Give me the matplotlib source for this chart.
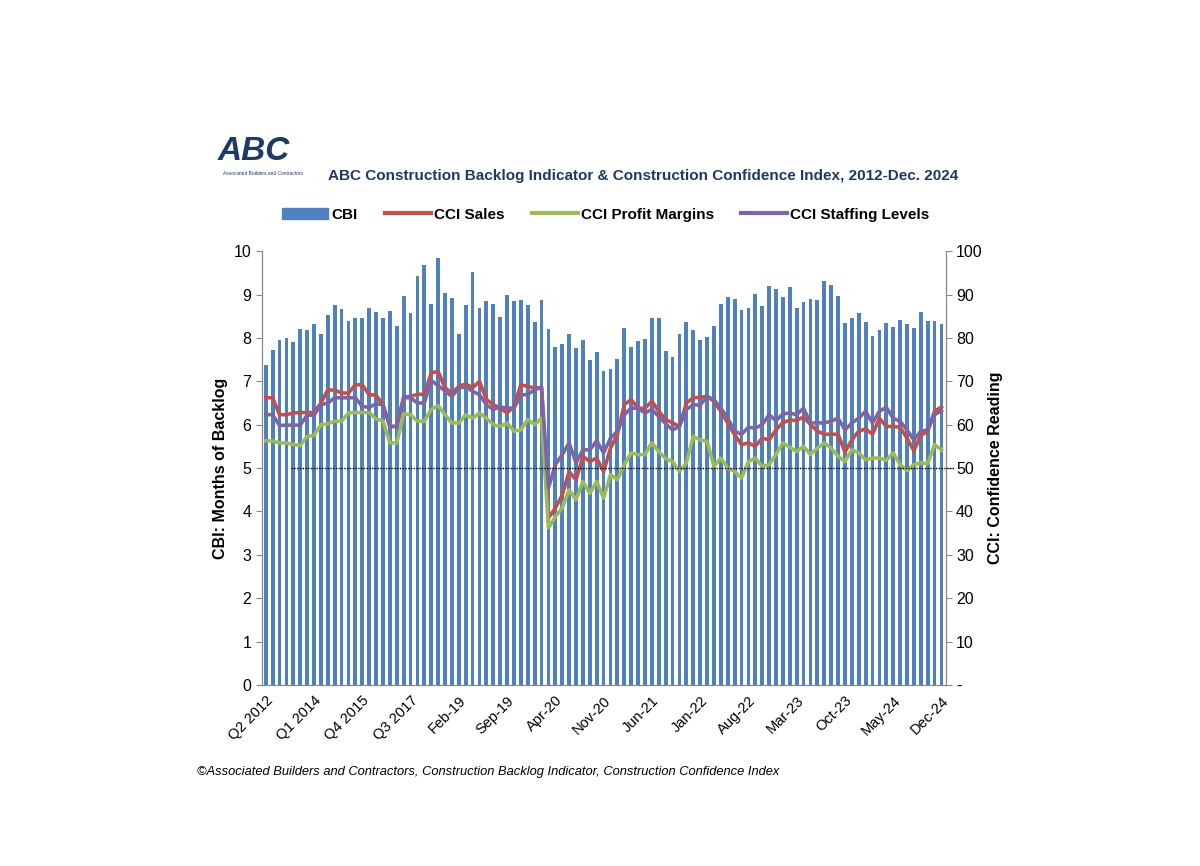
import numpy as np
import matplotlib.pyplot as plt
from matplotlib.lines import Line2D
from matplotlib.patches import Patch

# Period labels: quarterly to Q4 2018, then monthly to Dec-24
quarters = [f'Q{q} {y}' for y in range(2012, 2019) for q in range(1, 5)][1:]
months = []
mnames = ['Jan', 'Feb', 'Mar', 'Apr', 'May', 'Jun', 'Jul', 'Aug', 'Sep', 'Oct', 'Nov', 'Dec']
for y in range(19, 25):
    for m in mnames:
        months.append(f'{m}-{y}')
periods = quarters + months

cbi = [7.38, 7.71, 7.96, 7.99, 7.91, 8.2, 8.18, 8.31, 8.08, 8.52, 8.75, 8.67, 8.39, 8.47, 8.45, 8.68, 8.6, 8.47,
       8.63, 8.28, 8.97, 8.58, 9.43, 9.67, 8.78, 9.85, 9.04, 8.92, 8.08, 8.76, 9.52, 8.69, 8.86, 8.78, 8.48, 8.98,
       8.86, 8.88, 8.75, 8.37, 8.88, 8.21, 7.8, 7.87, 8.1, 7.76, 7.95, 7.49, 7.68, 7.23, 7.28, 7.52, 8.22, 7.78,
       7.92, 7.97, 8.45, 8.45, 7.7, 7.55, 8.1, 8.37, 8.18, 7.95, 8.01, 8.28, 8.79, 8.94, 8.9, 8.65, 8.68, 9.02,
       8.73, 9.2, 9.13, 8.94, 9.17, 8.68, 8.83, 8.9, 8.88, 9.32, 9.22, 8.96, 8.35, 8.45, 8.58, 8.37, 8.05, 8.18,
       8.35, 8.26, 8.41, 8.33, 8.22, 8.6, 8.38, 8.38, 8.31]

cci_sales = [66.2, 66.2, 62.3, 62.3, 62.7, 62.8, 62.8, 62.8, 65.0, 68.0, 68.0, 67.3, 67.3, 69.2, 69.2, 66.9, 66.8,
             64.6, 59.6, 59.6, 66.4, 66.5, 67.0, 67.0, 71.9, 72.3, 68.5, 67.3, 68.8, 69.4, 68.5, 70.0, 65.8, 64.6,
             63.8, 62.7, 64.2, 69.2, 68.8, 68.5, 68.5, 38.5, 40.8, 43.8, 49.2, 47.3, 52.7, 51.5, 52.3, 49.2,
             54.6, 57.7, 64.6, 65.8, 63.8, 63.8, 65.4, 63.1, 61.2, 60.4, 59.6, 65.0, 66.2, 66.3, 66.5, 65.4, 63.1,
             60.4, 57.7, 55.4, 55.8, 55.0, 56.9, 56.5, 58.8, 60.5, 61.0, 61.0, 61.8, 60.0, 58.5, 57.8, 57.8, 57.8,
             53.7, 56.5, 58.5, 59.0, 57.8, 61.5, 59.6, 59.6, 59.4, 56.9, 54.0, 57.5, 58.5, 63.1, 64.1]

cci_margins = [56.3, 56.2, 55.8, 55.8, 55.4, 55.2, 57.3, 57.5, 60.0, 60.2, 60.8, 60.8, 62.7, 62.8, 62.8, 62.8, 61.3,
               60.9, 55.8, 55.8, 62.5, 62.3, 60.8, 60.8, 63.5, 64.4, 62.3, 60.4, 60.4, 62.3, 61.5, 62.7, 61.5, 60.0,
               59.6, 60.4, 58.5, 58.8, 61.2, 60.0, 61.5, 36.2, 38.8, 40.8, 45.0, 42.7, 46.9, 44.2, 46.9, 43.1,
               48.5, 47.3, 50.8, 53.5, 53.1, 53.1, 55.8, 53.8, 52.2, 51.5, 49.2, 51.2, 57.3, 56.5, 56.2, 50.4, 52.3,
               50.0, 49.2, 47.7, 51.5, 52.3, 50.4, 50.8, 53.1, 55.8, 54.8, 53.8, 55.0, 53.1, 54.6, 55.8, 54.6, 52.7,
               51.5, 54.2, 53.5, 51.9, 52.3, 52.3, 51.8, 53.5, 50.8, 49.4, 50.8, 51.2, 51.0, 55.4, 54.2]

cci_staffing = [62.3, 62.3, 59.8, 59.9, 59.9, 59.9, 62.2, 62.2, 64.6, 65.0, 66.2, 66.2, 66.2, 66.2, 64.2, 64.0, 64.8,
                64.6, 59.6, 59.6, 66.2, 66.2, 65.0, 65.0, 70.2, 69.0, 67.8, 66.5, 68.5, 68.7, 67.7, 66.9, 64.6, 63.5,
                64.1, 63.8, 63.8, 66.8, 67.0, 68.0, 68.7, 45.4, 50.8, 53.1, 55.8, 51.2, 54.2, 54.2, 56.3, 53.5,
                56.9, 58.5, 62.3, 63.8, 63.8, 62.7, 63.5, 61.9, 60.2, 58.8, 59.6, 63.5, 64.6, 64.5, 66.5, 65.8, 63.8,
                61.5, 58.5, 57.8, 59.4, 59.2, 60.0, 62.3, 60.9, 62.5, 62.7, 62.3, 63.8, 60.4, 60.4, 60.4, 60.8, 61.5,
                58.8, 60.4, 61.5, 63.1, 60.4, 63.1, 64.0, 61.5, 60.8, 58.8, 56.5, 58.5, 58.8, 62.3, 63.2]

navy = '#1F3864'
plt.rcParams['font.family'] = ['Liberation Sans', 'DejaVu Sans']
fig = plt.figure(figsize=(12, 8.66), dpi=100)
ax = fig.add_axes([0.218, 0.209, 0.570, 0.501])
ax2 = ax.twinx()

x = np.arange(len(periods))
ax.bar(x, cbi, width=0.55, color='#4F81BD', zorder=1)
ax.set_ylim(0, 10)
ax.set_yticks(range(0, 11))
ax.set_xlim(-0.6, len(periods) - 0.4)
ax.set_xticks(x[::7])
ax.set_xticklabels(periods[::7], rotation=45, ha='right', rotation_mode='anchor', fontsize=10.5)
ax.set_ylabel('CBI: Months of Backlog', fontsize=11.5, fontweight='bold')
ax.tick_params(axis='y', labelsize=11.5, length=4, color='#888888')
ax.tick_params(axis='x', length=0, pad=6)

ax2.plot(x, cci_sales, color='#C0504D', lw=2.6)
ax2.plot(x, cci_margins, color='#9BBB59', lw=2.6)
ax2.plot(x, cci_staffing, color='#8064A2', lw=2.6)
ax2.plot([3.6, len(periods) + 0.8], [50, 50], color='black', ls=(0, (1, 1)), lw=1, clip_on=False)
ax2.set_ylim(0, 100)
ax2.set_yticks(range(0, 101, 10))
ax2.set_yticklabels(['-'] + [str(v) for v in range(10, 101, 10)])
ax2.set_ylabel('CCI: Confidence Reading', fontsize=11.5, fontweight='bold')
ax2.tick_params(axis='y', labelsize=11.5, length=4, color='#888888')

for a in (ax, ax2):
    a.spines['top'].set_visible(False)
    for s in ['left', 'right', 'bottom']:
        a.spines[s].set_color('#888888')

handles = [Patch(color='#4F81BD'), Line2D([], [], color='#C0504D', lw=3),
           Line2D([], [], color='#9BBB59', lw=3), Line2D([], [], color='#8064A2', lw=3)]
fig.legend(handles, ['CBI', 'CCI Sales', 'CCI Profit Margins', 'CCI Staffing Levels'],
           loc='center', bbox_to_anchor=(0.505, 0.752), ncol=4, frameon=False,
           prop={'weight': 'bold', 'size': 11}, handlelength=3, columnspacing=1.8, handletextpad=0.2)

fig.text(0.273, 0.797, 'ABC Construction Backlog Indicator & Construction Confidence Index, 2012-Dec. 2024',
         fontsize=11, fontweight='bold', color=navy, va='center')
fig.text(0.181, 0.825, 'ABC', fontsize=24, fontweight='bold', style='italic', color=navy, va='center')
fig.text(0.186, 0.800, 'Associated Builders and Contractors', fontsize=3.5, color=navy, va='center')
fig.text(0.164, 0.108, '©Associated Builders and Contractors, Construction Backlog Indicator, Construction Confidence Index',
         fontsize=9.3, style='italic', va='center')

fig.savefig('out.png', dpi=100)
